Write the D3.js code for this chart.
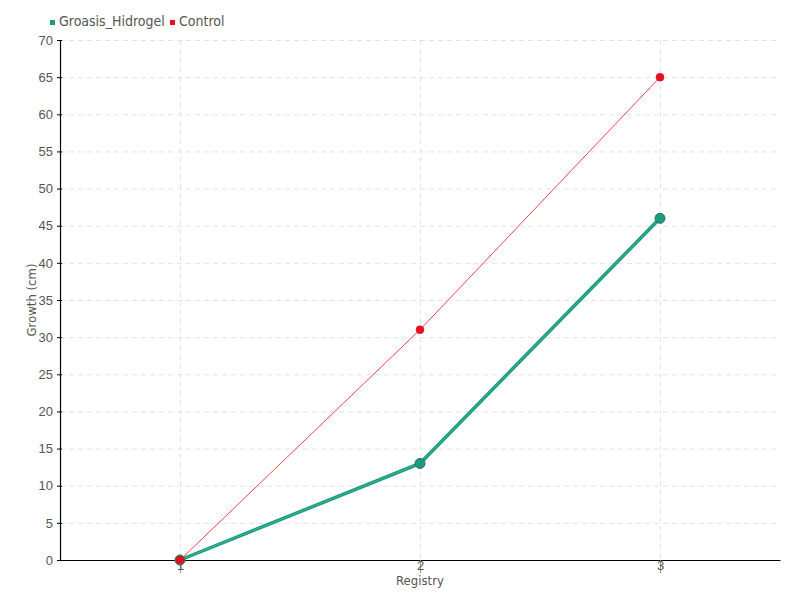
<!DOCTYPE html>
<html>
<head>
<meta charset="utf-8">
<script src="https://cdn.jsdelivr.net/npm/d3@7"></script>
<style>
  body { margin: 0; background: #fff; }
  svg { font-family: "DejaVu Sans Condensed", "DejaVu Sans", sans-serif; font-stretch: condensed; }
  .grid line { stroke: #e3e3e3; stroke-dasharray: 5,4; }
  .grid path { display: none; }
  .axis text { fill: #555; font-size: 13px; }
</style>
</head>
<body>
<svg id="chart" width="800" height="600"></svg>
<script>
const registry = [1, 2, 3];
const groasis = [0, 13, 46];
const control = [0, 31, 65];
const yTicks = d3.range(0, 71, 5);

const margin = { top: 40, right: 20, bottom: 40, left: 60 };
const width = 800 - margin.left - margin.right;
const height = 600 - margin.top - margin.bottom;

const svg = d3.select('#chart');
const g = svg.append('g').attr('transform', `translate(${margin.left},${margin.top})`);

const x = d3.scaleLinear().domain([0.5, 3.5]).range([0, width]);
const y = d3.scaleLinear().domain([0, 70]).range([height, 0]);

// grid
g.append('g').attr('class', 'grid')
  .call(d3.axisLeft(y).tickValues(yTicks).tickSize(-width).tickFormat(''));
g.append('g').attr('class', 'grid')
  .call(d3.axisBottom(x).tickValues(registry).tickSize(height).tickFormat(''));

// axes
const yAxis = g.append('g').attr('class', 'axis')
  .call(d3.axisLeft(y).tickValues(yTicks).tickFormat(d3.format('d')).tickSize(3).tickPadding(4).tickSizeOuter(0));
yAxis.select('.domain').attr('stroke', '#000').attr('stroke-width', 1.2);
yAxis.selectAll('.tick line').attr('x2', -3).attr('x1', 2).attr('stroke', '#000');

const xAxis = g.append('g').attr('class', 'axis')
  .attr('transform', `translate(0,${height})`)
  .call(d3.axisBottom(x).tickValues(registry).tickFormat(d3.format('d')).tickSize(13).tickPadding(-12).tickSizeOuter(0));
xAxis.select('.domain').attr('stroke', '#000').attr('stroke-width', 1.2);
xAxis.selectAll('.tick line').attr('stroke', '#999');

g.append('text').attr('x', width / 2).attr('y', height + 25)
  .attr('text-anchor', 'middle').attr('fill', '#555').style('font-size', '13px')
  .text('Registry');
g.append('text').attr('transform', `translate(-24,${height / 2}) rotate(-90)`)
  .attr('text-anchor', 'middle').attr('fill', '#555').style('font-size', '13px')
  .text('Growth (cm)');

const line = d3.line().x((d, i) => x(registry[i])).y(d => y(d));

// green series
g.append('path').datum(groasis).attr('d', line)
  .attr('fill', 'none').attr('stroke', '#1a9a7c').attr('stroke-width', 3.5);
g.append('path').datum(groasis).attr('d', line)
  .attr('fill', 'none').attr('stroke', '#3fb595').attr('stroke-width', 1);
g.selectAll('.g-dot').data(groasis).enter().append('circle')
  .attr('class', 'g-dot')
  .attr('cx', (d, i) => x(registry[i])).attr('cy', d => y(d))
  .attr('r', 5).attr('fill', '#1c9b7d').attr('stroke', '#2b6f5c').attr('stroke-width', 1);

// red series
g.append('path').datum(control).attr('d', line)
  .attr('fill', 'none').attr('stroke', '#f2434f').attr('stroke-width', 1);
g.selectAll('.c-dot').data(control).enter().append('circle')
  .attr('class', 'c-dot')
  .attr('cx', (d, i) => x(registry[i])).attr('cy', d => y(d))
  .attr('r', 4).attr('fill', '#e8101f').attr('stroke', '#c0101c').attr('stroke-width', 0.5);

// legend
const legend = [{ name: 'Groasis_Hidrogel', color: '#1a9a7c', x: 50 }, { name: 'Control', color: '#e8101f', x: 170 }];
legend.forEach(l => {
  svg.append('rect').attr('x', l.x).attr('y', 20).attr('width', 5).attr('height', 5).attr('fill', l.color);
  svg.append('text').attr('x', l.x + 9).attr('y', 26).attr('fill', '#555')
    .style('font-size', '14px').text(l.name);
});
</script>
</body>
</html>
